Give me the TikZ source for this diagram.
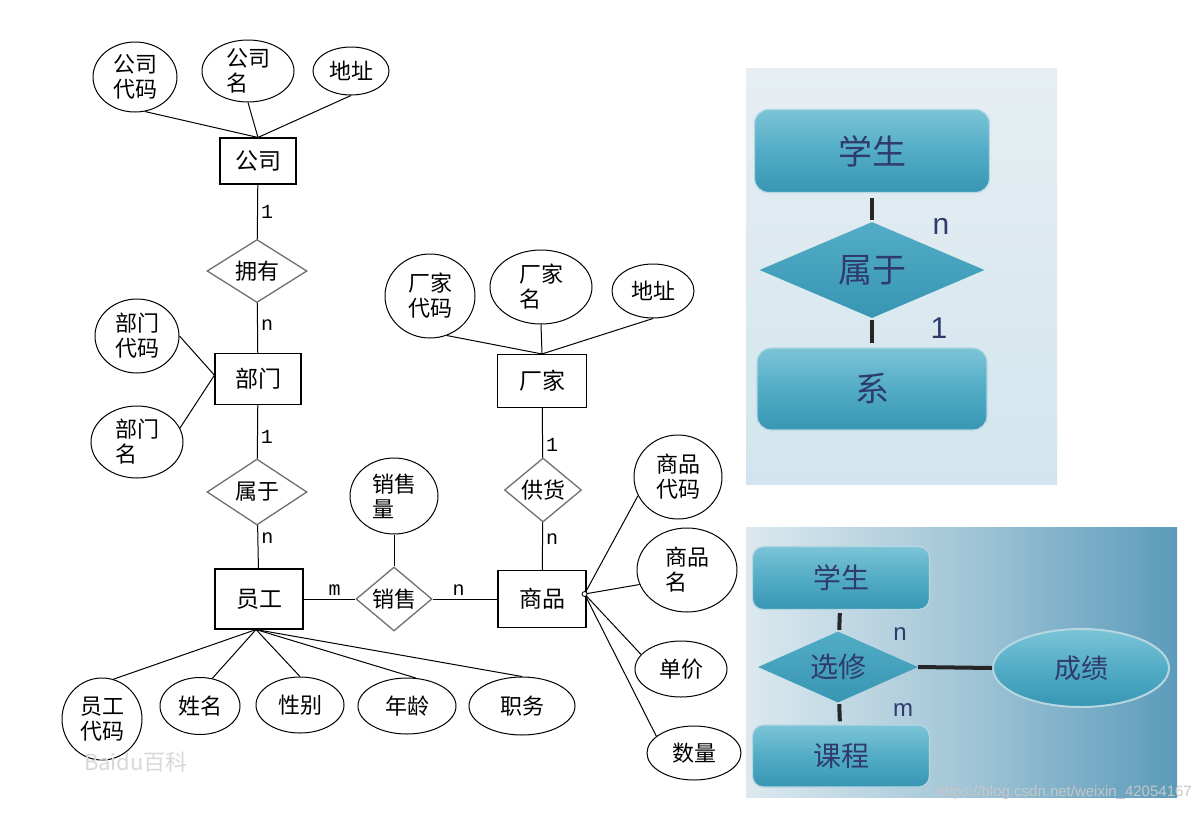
\documentclass[tikz,border=0pt]{standalone}
\usepackage{fontspec}
\setmainfont{Liberation Serif}
\newfontfamily\cjk{Noto Sans CJK SC}
\newfontfamily\mono{Liberation Mono}
\newfontfamily\sansf{Liberation Sans}
\usetikzlibrary{shapes.geometric,calc}
\definecolor{navy}{HTML}{2F3B6C}
\definecolor{tealL}{HTML}{7CC4D7}
\definecolor{tealM}{HTML}{52ACC6}
\definecolor{tealD}{HTML}{3896B3}
\definecolor{tealB}{HTML}{B6D7E2}
\definecolor{panA}{HTML}{E6EEF2}
\definecolor{panB}{HTML}{D2E5EE}
\definecolor{panC}{HTML}{DCE9EF}
\definecolor{panD}{HTML}{A3C6D7}
\definecolor{panE}{HTML}{5B9BBA}
\definecolor{relgray}{HTML}{707070}
\definecolor{wm}{HTML}{D8D8D8}
\begin{document}
\begin{tikzpicture}[x=1pt,y=-1pt,
  ent/.style={draw=black, line width=1.1pt, rectangle, inner sep=0pt, fill=white,
    font=\cjk\fontsize{23}{25}\selectfont},
  rel/.style={draw=relgray, line width=1.3pt, diamond, inner sep=0pt, fill=white},
  attr/.style={draw=black, line width=1pt, ellipse, inner sep=0pt, fill=white},
  lbl/.style={inner sep=0pt, align=left, font=\cjk\fontsize{22}{25}\selectfont},
  lk/.style={line width=1pt, draw=black},
  card/.style={inner sep=3pt, font=\mono\fontsize{20}{20}\selectfont},
  pbox/.style={rounded corners=14pt, top color=tealL, bottom color=tealD, middle color=tealM,
    draw=tealB, line width=1.2pt, inner sep=0pt, text=navy},
  pdia/.style={diamond, top color=tealM, bottom color=tealD, draw=none, inner sep=0pt},
  pell/.style={ellipse, top color=tealL, bottom color=tealD, middle color=tealM,
    draw=tealB, line width=2pt, inner sep=0pt, text=navy},
  plbl/.style={inner sep=0pt, text=navy},
  pk/.style={line width=4pt, draw=black!85},
  pcard/.style={inner sep=0pt, text=navy, font=\sansf\fontsize{30}{30}\selectfont},
]
\useasboundingbox (0,0) rectangle (1200,812);
\fill[white] (0,0) rectangle (1200,812);

% ---------------- left ER diagram ----------------
% company
\node[attr, minimum width=84, minimum height=70, label={[lbl]center:公司\\代码}] (gsdm) at (135,77) {};
\node[attr, minimum width=92, minimum height=62, label={[lbl]center:公司\\名}] (gsm) at (248,71) {};
\node[attr, minimum width=76, minimum height=48, label={[lbl]center:地址}] (gsdz) at (351,71) {};
\node[ent, minimum width=76, minimum height=46] (gs) at (258,161) {公司};
\node[rel, minimum width=100, minimum height=63, label={[lbl]center:拥有}] (yy) at (257,271) {};
% department
\node[ent, minimum width=86, minimum height=51] (bm) at (258,379) {部门};
\node[attr, minimum width=84, minimum height=74, label={[lbl]center:部门\\代码}] (bmdm) at (137,336) {};
\node[attr, minimum width=92, minimum height=72, label={[lbl]center:部门\\名}] (bmm) at (137,442) {};
\node[rel, minimum width=100, minimum height=66, label={[lbl]center:属于}] (sy) at (257,492) {};
% employee
\node[ent, minimum width=88, minimum height=60] (yg) at (259,599) {员工};
\node[rel, minimum width=76, minimum height=64, label={[lbl]center:销售}] (xs) at (394,599) {};
\node[attr, minimum width=88, minimum height=76, label={[lbl]center:销售\\量}] (xsl) at (394,496) {};
\node[ent, minimum width=88, minimum height=57] (sp) at (542,599) {商品};
% factory
\node[ent, minimum width=89, minimum height=53] (cj) at (542,381) {厂家};
\node[attr, minimum width=90, minimum height=84, label={[lbl]center:厂家\\代码}] (cjdm) at (430,296) {};
\node[attr, minimum width=102, minimum height=74, label={[lbl]center:厂家\\名}] (cjm) at (541,287) {};
\node[attr, minimum width=82, minimum height=54, label={[lbl]center:地址}] (cjdz) at (653,291) {};
\node[rel, minimum width=77, minimum height=64, label={[lbl]center:供货}] (gh) at (543,490) {};
% goods attributes
\node[attr, minimum width=88, minimum height=84, label={[lbl]center:商品\\代码}] (spdm) at (678,477) {};
\node[attr, minimum width=100, minimum height=84, label={[lbl]center:商品\\名}] (spm) at (687,570) {};
\node[attr, minimum width=92, minimum height=56, label={[lbl]center:单价}] (dj) at (681,669) {};
\node[attr, minimum width=94, minimum height=54, label={[lbl]center:数量}] (sl) at (694,753) {};
% employee attributes
\node[attr, minimum width=80, minimum height=82, label={[lbl]center:员工\\代码}] (ygdm) at (102,719) {};
\node[attr, minimum width=80, minimum height=57, label={[lbl]center:姓名}] (xm) at (200,706) {};
\node[attr, minimum width=88, minimum height=56, label={[lbl]center:性别}] (xb) at (300,705) {};
\node[attr, minimum width=98, minimum height=56, label={[lbl]center:年龄}] (nl) at (407,706) {};
\node[attr, minimum width=106, minimum height=58, label={[lbl]center:职务}] (zw) at (522,706) {};

% connectors
\draw[lk] (gsdm.-74) -- (gs.north);
\draw[lk] (gsm.south) -- (gs.north);
\draw[lk] (gsdz.south) -- (gs.north);
\draw[lk] (gs) -- node[card, right, pos=.5]{1} (yy);
\draw[lk] (yy) -- node[card, right, pos=.45]{n} (bm);
\draw[lk] (bmdm.east) -- (bm.175);
\draw[lk] (bmm.18) -- (bm.175);
\draw[lk] (bm) -- node[card, right, pos=.6]{1} (sy);
\draw[lk] (sy) -- node[card, right, pos=.3]{n} (yg);
\draw[lk] (yg) -- node[card, above, pos=.6]{m} (xs);
\draw[lk] (xs) -- node[card, above, pos=.4]{n} (sp);
\draw[lk] (xsl) -- (xs);
\draw[lk] (cjdm.-67) -- (cj.north);
\draw[lk] (cjm.south) -- (cj.north);
\draw[lk] (cjdz.south) -- (cj.north);
\draw[lk] (cj) -- node[card, right, pos=.75]{1} (gh);
\draw[lk] (gh) -- node[card, right, pos=.35]{n} (sp);
\coordinate (spc) at ($(sp.east)+(-2,-5)$);
\draw[lk] (spc) -- (spdm.-155);
\draw[lk] (spc) -- (spm.197);
\draw[lk] (spc) -- (dj.160);
\draw[lk] (spc) -- (sl.156);
\draw[line width=0.8pt, fill=white] (spc) circle[radius=2.5];
\coordinate (ygc) at ($(yg.south)+(-3,0)$);
\draw[lk] (ygc) -- (ygdm.74);
\draw[lk] (ygc) -- (xm.66);
\draw[lk] (ygc) -- (xb.north);
\draw[lk] (ygc) -- (nl.73);
\draw[lk] (ygc) -- (zw.north);

% watermark
\node[inner sep=0pt, text=wm, font=\cjk\fontsize{22}{22}\selectfont] (wm1) at (136,762) {Baidu百科};

% ---------------- right panel 1 ----------------
\shade[top color=panA, bottom color=panB] (746,68) rectangle (1057,484);
\node[pbox, minimum width=235, minimum height=83, font=\cjk\fontsize{34}{34}\selectfont] (xs1) at (872,151) {学生};
\node[pdia, minimum width=225, minimum height=96, label={[plbl, font=\cjk\fontsize{34}{34}\selectfont]center:属于}] (sy1) at (872,270) {};
\node[pbox, minimum width=230, minimum height=82, font=\cjk\fontsize{34}{34}\selectfont] (xi1) at (872,389) {系};
\draw[pk, shorten <=5pt, shorten >=2pt] (xs1) -- (sy1);
\draw[pk, shorten <=2pt, shorten >=4pt] (sy1) -- (xi1);
\node[pcard] (n1) at (941,226) {n};
\node[pcard] (o1) at (939,328) {1};

% ---------------- right panel 2 ----------------
\shade[left color=panC, right color=panE, middle color=panD] (746,527) rectangle (1177,797);
\node[pbox, rounded corners=11pt, minimum width=177, minimum height=63, font=\cjk\fontsize{28}{28}\selectfont] (xs2) at (841,578) {学生};
\node[pdia, minimum width=160, minimum height=71, label={[plbl, font=\cjk\fontsize{28}{28}\selectfont]center:选修}] (xx2) at (838,667) {};
\node[pbox, rounded corners=11pt, minimum width=177, minimum height=62, font=\cjk\fontsize{28}{28}\selectfont] (kc2) at (841,756) {课程};
\node[pell, minimum width=176, minimum height=78, font=\cjk\fontsize{27}{27}\selectfont] (cjz) at (1081,668) {成绩};
\draw[pk, shorten <=3pt, shorten >=2pt] (xs2) -- (xx2);
\draw[pk, shorten <=2pt, shorten >=3pt] (xx2) -- (kc2);
\draw[pk] (xx2.east) -- (cjz.west);
\node[pcard, font=\sansf\fontsize{24}{24}\selectfont] (n2) at (900,634) {n};
\node[pcard, font=\sansf\fontsize{24}{24}\selectfont] (m2) at (903,710) {m};

% url watermark
\node[inner sep=0pt, anchor=east, text=black!22, font=\sansf\fontsize{15}{15}\selectfont] (url) at (1192,793) {https://blog.csdn.net/weixin\_42054167};
\end{tikzpicture}
\end{document}
